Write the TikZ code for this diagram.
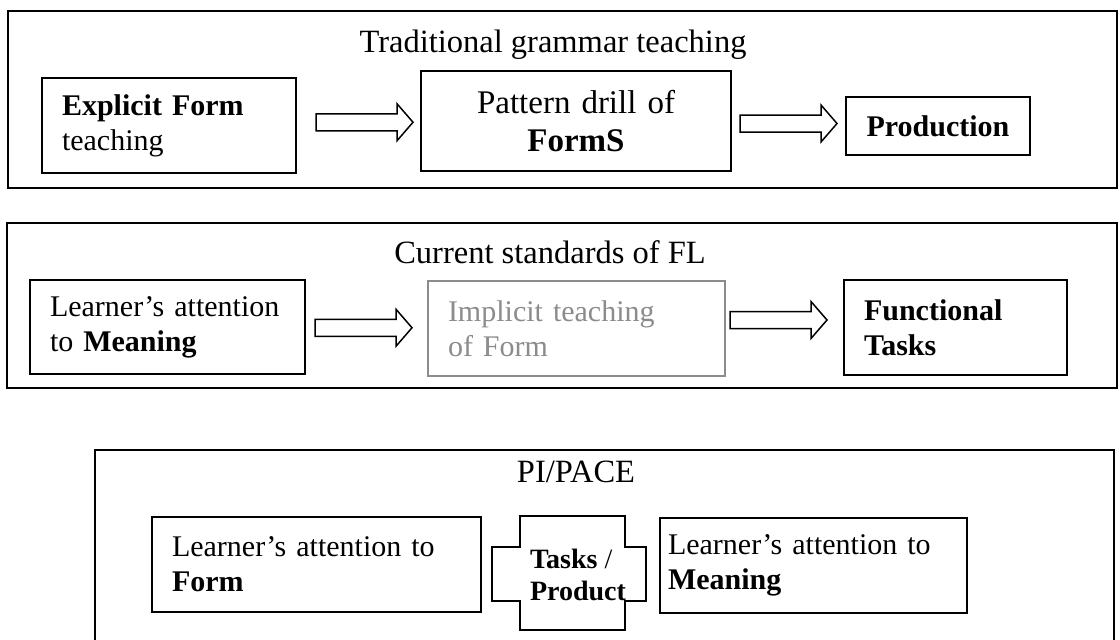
\documentclass[tikz,border=0pt]{standalone}
\usepackage{fontspec}
\setmainfont{Liberation Serif}
\usetikzlibrary{calc}

\newcommand{\bodyfont}{\fontsize{30}{35}\selectfont}
\newcommand{\titlefont}{\fontsize{32.5}{38}\selectfont}
\newcommand{\drillfont}{\fontsize{33}{38}\selectfont}
\newcommand{\crossfont}{\fontsize{28}{32}\selectfont}

\tikzset{
  frame/.style = {draw, line width = 2pt},
  box/.style = {draw, line width = 1.5pt, fill = white, inner xsep = 20pt,
                inner ysep = 0pt, align = left, font = \bodyfont},
  title/.style = {anchor = base, font = \titlefont},
  hollowarrow/.style = {draw, line width = 1.5pt, fill = white,
    to path = {let \p1 = (\tikztostart), \p2 = (\tikztotarget),
                   \p3 = ({0.5*\x1+0.5*\x2}, {0.5*\y1+0.5*\y2}) in
      (\x3-48.5pt, \y3+8.5pt) -- (\x3+32.5pt, \y3+8.5pt) -- (\x3+32.5pt, \y3+18.5pt)
      -- (\x3+48.5pt, \y3) -- (\x3+32.5pt, \y3-18.5pt) -- (\x3+32.5pt, \y3-8.5pt)
      -- (\x3-48.5pt, \y3-8.5pt) -- cycle}}
}

\begin{document}
\begin{tikzpicture}[x = 1pt, y = -1pt]
    \useasboundingbox (0,0) rectangle (1120,640);

    % traditional grammar teaching
    \draw[frame] (8,11) rectangle (1117,188);
    \node[title] (trad) at (553,52) {Traditional grammar teaching};
    \node[box, text width = 214pt, minimum height = 95pt] (explicit) at (169,125.5)
        {\textbf{Explicit Form}\\teaching};
    \node[box, text width = 270pt, minimum height = 100pt, align = center, font = \drillfont] (drill) at (576,121)
        {Pattern drill of\\\textbf{FormS}};
    \node[box, text width = 144pt, minimum height = 58pt, align = center] (production) at (938,126)
        {\textbf{Production}};
    \draw[hollowarrow] ([xshift = 6pt, yshift = 1pt]explicit.east) to ([xshift = 6pt, yshift = 1pt]drill.west);
    \draw[hollowarrow] (drill.east) to (production.west);

    % current standards
    \draw[frame] (7,223) rectangle (1117,388);
    \node[title] (current) at (550,263) {Current standards of FL};
    \node[box, text width = 235pt, minimum height = 94pt] (meaning) at (167.5,327)
        {Learner’s attention\\to \textbf{Meaning}};
    \node[box, text width = 257pt, minimum height = 95pt, draw = black!45, text = black!45] (implicit) at (576.5,328.5)
        {Implicit teaching\\of Form};
    \node[box, text width = 183pt, minimum height = 95pt] (functional) at (955.5,327.5)
        {\textbf{Functional}\\\textbf{Tasks}};
    \draw[hollowarrow] ([xshift = -3pt]meaning.east) to ([xshift = -3pt]implicit.west);
    \draw[hollowarrow] ([xshift = -6pt, yshift = 8pt]implicit.east) to ([xshift = -6pt, yshift = 8pt]functional.west);

    % PI/PACE
    \draw[frame] (95,660) -- (95,450) -- (1114,450) -- (1114,660);
    \node[title] (pace) at (576,482) {PI/PACE};
    \node[box, text width = 289pt, minimum height = 95pt] (formbox) at (316.5,564.5)
        {Learner’s attention to\\\textbf{Form}};
    \node[box, text width = 291pt, inner xsep = 8pt, minimum height = 95pt] (meaningbox) at (813.5,565.5)
        {Learner’s attention to\\\textbf{Meaning}};
    \draw[line width = 2.5pt, fill = white] (520,516) -- (625,516) -- (625,547) -- (646,547)
        -- (646,601) -- (625,601) -- (625,630) -- (520,630) -- (520,601) -- (492,601)
        -- (492,547) -- (520,547) -- cycle;
    \node[align = left, font = \crossfont, inner sep = 0pt] (tasks) at (578,575)
        {\textbf{Tasks} /\\\textbf{Product}};
\end{tikzpicture}
\end{document}
